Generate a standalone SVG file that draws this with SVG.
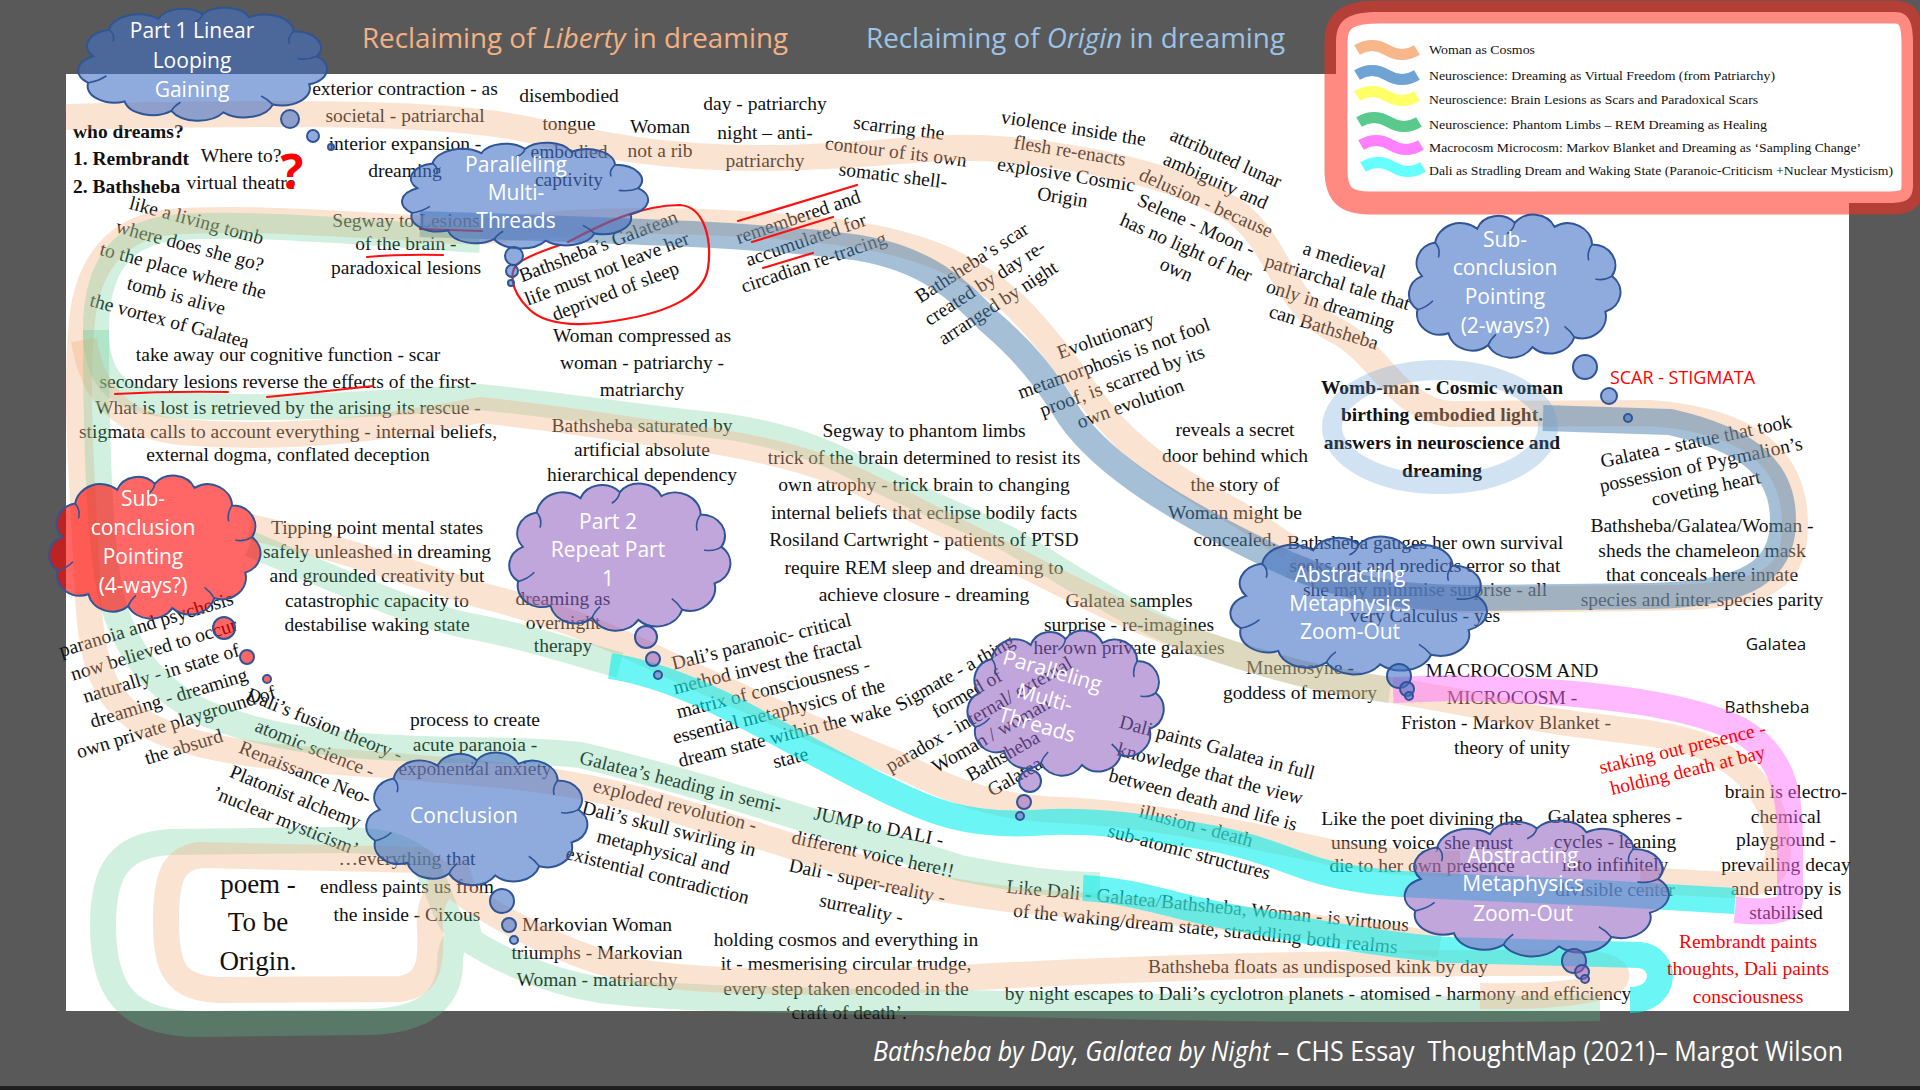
<svg xmlns="http://www.w3.org/2000/svg" xmlns:xlink="http://www.w3.org/1999/xlink" width="1920" height="1090" viewBox="0 0 1920 1090">
<style>
.t{font-family:"Liberation Serif","Times New Roman",serif;font-size:19.5px;fill:#111;text-anchor:middle}
.tb{font-weight:bold}
.ts{text-anchor:start}
.red{fill:#FF0000}
.cl{font-family:"Open Sans","Liberation Sans",sans-serif;font-size:21px;fill:#fff;text-anchor:middle}
.sn{font-family:"Open Sans","Liberation Sans",sans-serif;font-size:17px;fill:#111;text-anchor:middle}
.lg{font-family:"Liberation Serif",serif;font-size:13px;fill:#111}
.ti{font-family:"Open Sans","Liberation Sans",sans-serif;font-size:27px}
.hl{fill:none;stroke-linejoin:round;stroke-linecap:butt;stroke-width:26}
.o{stroke:#F4B183;stroke-opacity:.36}
.g{stroke:#5CC890;stroke-opacity:.28}
.bl{stroke:#4A7FAE;stroke-opacity:.5}
.lb{stroke:#5B9BD5;stroke-opacity:.28;stroke-width:20}
.cy{stroke:#00EEEE;stroke-opacity:.58}
.mg{stroke:#FF66FF;stroke-opacity:.45}
.cb{fill:#4472C4;fill-opacity:.6;stroke:#2F5597;stroke-width:2}
.cr{fill:#FF0000;fill-opacity:.6;stroke:#2F5597;stroke-width:2}
.cp{fill:#8E5CC0;fill-opacity:.55;stroke:#2F5597;stroke-width:2}
.ci{fill:none;stroke:#2F5597;stroke-width:1.6}
.rl{fill:none;stroke:#FF1010;stroke-width:2.2;stroke-linecap:round}
.lgs{fill:none;stroke-width:11;stroke-linecap:butt}
</style>
<defs>
<path id="cloud" vector-effect="non-scaling-stroke" d="M18,62 A21,21 0 0 1 30,28 A23,23 0 0 1 68,14 A20,20 0 0 1 102,8 A21,21 0 0 1 138,12 A22,22 0 0 1 172,30 A21,21 0 0 1 190,62 A21,21 0 0 1 184,98 A22,22 0 0 1 156,124 A23,23 0 0 1 118,134 A23,23 0 0 1 78,132 A22,22 0 0 1 42,120 A21,21 0 0 1 14,96 A20,20 0 0 1 18,62 Z"/>
<path id="cloudIn" vector-effect="non-scaling-stroke" d="M30,28 Q35,34 33,43 M102,8 Q101,15 95,19 M172,30 Q167,38 169,46 M190,62 Q183,67 175,65 M156,124 Q152,117 147,113 M78,132 Q80,126 85,121 M14,96 Q22,94 28,87"/>
</defs>

<rect x="0" y="0" width="1920" height="1090" fill="#595959"/>
<rect x="66" y="74" width="1783" height="937" fill="#FFFFFF"/>
<rect x="0" y="1086" width="1920" height="4" fill="#1E1E1E"/>

<text x="362" y="48" class="ti" fill="#F4B183" textLength="426" lengthAdjust="spacingAndGlyphs">Reclaiming of <tspan font-style="italic">Liberty</tspan> in dreaming</text>
<text x="866" y="48" class="ti" fill="#9DC3E6" textLength="419" lengthAdjust="spacingAndGlyphs">Reclaiming of <tspan font-style="italic">Origin</tspan> in dreaming</text>

<g id="legend">
<path d="M1336,42 C1336,18 1350,12 1380,12 L1895,12 C1910,12 1913,24 1913,45 L1913,185 C1913,200 1905,203 1890,203 L1370,203 C1346,203 1336,195 1336,170 Z" fill="#FFFFFF" stroke="#FF2A1A" stroke-opacity="0.55" stroke-width="23"/>
<path class="lgs" stroke="#F8B78B" d="M1357,50 c10,-6 20,-6 30,0 s20,6 30,0"/>
<path class="lgs" stroke="#6FA3D3" d="M1357,75 c10,-6 20,-6 30,0 s20,6 30,0"/>
<path class="lgs" stroke="#FFFF66" d="M1357,96 c10,-6 20,-6 30,0 s20,6 30,0"/>
<path class="lgs" stroke="#5AC98C" d="M1359,122 c10,-6 20,-6 30,0 s20,6 30,0"/>
<path class="lgs" stroke="#FF80FF" d="M1361,145 c10,-6 20,-6 30,0 s20,6 30,0"/>
<path class="lgs" stroke="#66FFFF" d="M1363,167 c10,-6 20,-6 30,0 s20,6 30,0"/>
<text class="lg" x="1429" y="54" textLength="106" lengthAdjust="spacingAndGlyphs">Woman as Cosmos</text>
<text class="lg" x="1429" y="80" textLength="346" lengthAdjust="spacingAndGlyphs">Neuroscience: Dreaming as Virtual Freedom (from Patriarchy)</text>
<text class="lg" x="1429" y="104" textLength="329" lengthAdjust="spacingAndGlyphs">Neuroscience: Brain Lesions as Scars and Paradoxical Scars</text>
<text class="lg" x="1429" y="129" textLength="338" lengthAdjust="spacingAndGlyphs">Neuroscience: Phantom Limbs – REM Dreaming as Healing</text>
<text class="lg" x="1429" y="152" textLength="432" lengthAdjust="spacingAndGlyphs">Macrocosm Microcosm: Markov Blanket and Dreaming as ‘Sampling Change’</text>
<text class="lg" x="1429" y="175" textLength="464" lengthAdjust="spacingAndGlyphs">Dali as Stradling Dream and Waking State (Paranoic-Criticism +Nuclear Mysticism)</text>
</g>

<g id="texts">
<text class="t"><tspan x="405" y="95">exterior contraction - as</tspan><tspan x="405" y="122">societal - patriarchal</tspan><tspan x="405" y="150">interior expansion -</tspan><tspan x="405" y="177">dreaming</tspan></text>
<text class="t"><tspan x="569" y="102">disembodied</tspan><tspan x="569" y="130">tongue</tspan><tspan x="569" y="158">embodied</tspan><tspan x="569" y="186">captivity</tspan></text>
<text class="t"><tspan x="660" y="133">Woman</tspan><tspan x="660" y="157">not a rib</tspan></text>
<text class="t"><tspan x="765" y="110">day - patriarchy</tspan><tspan x="765" y="139">night – anti-</tspan><tspan x="765" y="167">patriarchy</tspan></text>
<g transform="translate(896,152) rotate(7)"><text class="t"><tspan x="0" y="-18">scarring the</tspan><tspan x="0" y="6">contour of its own</tspan><tspan x="0" y="30">somatic shell-</tspan></text></g>
<g transform="translate(1068,163) rotate(9)"><text class="t"><tspan x="0" y="-29">violence inside the</tspan><tspan x="0" y="-6">flesh re-enacts</tspan><tspan x="0" y="18">explosive Cosmic</tspan><tspan x="0" y="41">Origin</tspan></text></g>
<g transform="translate(1201,214) rotate(24)"><text class="t"><tspan x="0" y="-55">attributed lunar</tspan><tspan x="0" y="-30">ambiguity and</tspan><tspan x="0" y="-6">delusion - because</tspan><tspan x="0" y="18">Selene - Moon -</tspan><tspan x="0" y="43">has no light of her</tspan><tspan x="0" y="67">own</tspan></text></g>
<g transform="translate(1334,294) rotate(17)"><text class="t"><tspan x="0" y="-29">a medieval</tspan><tspan x="0" y="-6">patriarchal tale that</tspan><tspan x="0" y="18">only in dreaming</tspan><tspan x="0" y="41">can Bathsheba</tspan></text></g>
<text class="t tb ts"><tspan x="73" y="138">who dreams?</tspan><tspan x="73" y="165">1. Rembrandt</tspan><tspan x="73" y="193">2. Bathsheba</tspan></text>
<text class="t"><tspan x="241" y="162">Where to?</tspan><tspan x="241" y="189">virtual theatre</tspan></text>
<g transform="translate(183,271) rotate(15)"><text class="t"><tspan x="0" y="-46">like a living tomb</tspan><tspan x="0" y="-20">where does she go?</tspan><tspan x="0" y="6">to the place where the</tspan><tspan x="0" y="32">tomb is alive</tspan><tspan x="0" y="58">the vortex of Galatea</tspan></text></g>
<text class="t"><tspan x="288" y="361">take away our cognitive function - scar</tspan><tspan x="288" y="388">secondary lesions reverse the effects of the first-</tspan><tspan x="288" y="414">What is lost is retrieved by the arising its rescue -</tspan><tspan x="288" y="438">stigmata calls to account everything - internal beliefs,</tspan><tspan x="288" y="461">external dogma, conflated deception</tspan></text>
<text class="t"><tspan x="406" y="227">Segway to Lesions</tspan><tspan x="406" y="250">of the brain -</tspan><tspan x="406" y="274">paradoxical lesions</tspan></text>
<g transform="translate(607,269) rotate(-21)"><text class="t"><tspan x="0" y="-18">Bathsheba’s Galatean</tspan><tspan x="0" y="6">life must not leave her</tspan><tspan x="0" y="30">deprived of sleep</tspan></text></g>
<g transform="translate(806,240) rotate(-19)"><text class="t"><tspan x="0" y="-18">remembered and</tspan><tspan x="0" y="6">accumulated for</tspan><tspan x="0" y="30">circadian re-tracing</tspan></text></g>
<g transform="translate(985,283) rotate(-33)"><text class="t"><tspan x="0" y="-18">Bathsheba’s scar</tspan><tspan x="0" y="6">created by day re-</tspan><tspan x="0" y="30">arranged by night</tspan></text></g>
<g transform="translate(1118,370) rotate(-20)"><text class="t"><tspan x="0" y="-30">Evolutionary</tspan><tspan x="0" y="-6">metamorphosis is not fool</tspan><tspan x="0" y="18">proof, is scarred by its</tspan><tspan x="0" y="42">own evolution</tspan></text></g>
<text class="t"><tspan x="642" y="342">Woman compressed as</tspan><tspan x="642" y="369">woman - patriarchy -</tspan><tspan x="642" y="396">matriarchy</tspan></text>
<text class="t"><tspan x="642" y="432">Bathsheba saturated by</tspan><tspan x="642" y="456">artificial absolute</tspan><tspan x="642" y="481">hierarchical dependency</tspan></text>
<text class="t"><tspan x="924" y="437">Segway to phantom limbs</tspan><tspan x="924" y="464">trick of the brain determined to resist its</tspan><tspan x="924" y="491">own atrophy - trick brain to changing</tspan><tspan x="924" y="519">internal beliefs that eclipse bodily facts</tspan><tspan x="924" y="546">Rosiland Cartwright - patients of PTSD</tspan><tspan x="924" y="574">require REM sleep and dreaming to</tspan><tspan x="924" y="601">achieve closure - dreaming</tspan></text>
<text class="t"><tspan x="1235" y="436">reveals a secret</tspan><tspan x="1235" y="462">door behind which</tspan><tspan x="1235" y="491">the story of</tspan><tspan x="1235" y="519">Woman might be</tspan><tspan x="1235" y="546">concealed.</tspan></text>
<text class="t tb"><tspan x="1442" y="394">Womb-man - Cosmic woman</tspan><tspan x="1442" y="421">birthing embodied light.</tspan><tspan x="1442" y="449">answers in neuroscience and</tspan><tspan x="1442" y="477">dreaming</tspan></text>
<g transform="translate(1701,465) rotate(-12)"><text class="t"><tspan x="0" y="-18">Galatea - statue that took</tspan><tspan x="0" y="6">possession of Pygmalion’s</tspan><tspan x="0" y="30">coveting heart</tspan></text></g>
<text class="t"><tspan x="1702" y="532">Bathsheba/Galatea/Woman -</tspan><tspan x="1702" y="557">sheds the chameleon mask</tspan><tspan x="1702" y="581">that conceals here innate</tspan><tspan x="1702" y="606">species and inter-species parity</tspan></text>
<text class="sn" x="1776" y="650">Galatea</text>
<text class="sn" x="1767" y="713">Bathsheba</text>
<text class="t"><tspan x="377" y="534">Tipping point mental states</tspan><tspan x="377" y="558">safely unleashed in dreaming</tspan><tspan x="377" y="582">and grounded creativity but</tspan><tspan x="377" y="607">catastrophic capacity to</tspan><tspan x="377" y="631">destabilise waking state</tspan></text>
<text class="t"><tspan x="563" y="605">dreaming as</tspan><tspan x="563" y="629">overnight</tspan><tspan x="563" y="652">therapy</tspan></text>
<g transform="translate(776,700) rotate(-14)"><text class="t"><tspan x="0" y="-54">Dali’s paranoic- critical</tspan><tspan x="0" y="-30">method invest the fractal</tspan><tspan x="0" y="-6">matrix of consciousness -</tspan><tspan x="0" y="18">essential metaphysics of the</tspan><tspan x="0" y="42">dream state within the wake</tspan><tspan x="0" y="66">state</tspan></text></g>
<g transform="translate(985,725) rotate(-30)"><text class="t"><tspan x="0" y="-54">Sigmate - a thing</tspan><tspan x="0" y="-30">formed of</tspan><tspan x="0" y="-6">paradox - internal/ external</tspan><tspan x="0" y="18">Woman / woman</tspan><tspan x="0" y="42">Bathsheba</tspan><tspan x="0" y="66">Galatea</tspan></text></g>
<g transform="translate(165,686) rotate(-17)"><text class="t"><tspan x="0" y="-58">paranoia and psychosis</tspan><tspan x="0" y="-32">now believed to occur</tspan><tspan x="0" y="-7">naturally - in state of</tspan><tspan x="0" y="19">dreaming - dreaming</tspan><tspan x="0" y="44">own private playground of</tspan><tspan x="0" y="70">the absurd</tspan></text></g>
<g transform="translate(305,773) rotate(22)"><text class="t"><tspan x="0" y="-46">Dali’s fusion theory -</tspan><tspan x="0" y="-20">atomic science -</tspan><tspan x="0" y="6">Renaissance Neo-</tspan><tspan x="0" y="32">Platonist alchemy</tspan><tspan x="0" y="58">’nuclear mysticism’</tspan></text></g>
<text class="t"><tspan x="475" y="726">process to create</tspan><tspan x="475" y="751">acute paranoia -</tspan><tspan x="475" y="775">exponential anxiety</tspan></text>
<text class="t"><tspan x="407" y="865">…everything that</tspan><tspan x="407" y="893">endless paints us from</tspan><tspan x="407" y="921">the inside - Cixous</tspan></text>
<text class="t" style="font-size:27px"><tspan x="258" y="893">poem -</tspan><tspan x="258" y="931">To be</tspan><tspan x="258" y="970">Origin.</tspan></text>
<g transform="translate(669,829) rotate(14)"><text class="t"><tspan x="0" y="-42">Galatea’s heading in semi-</tspan><tspan x="0" y="-18">exploded revolution -</tspan><tspan x="0" y="6">Dali’s skull swirling in</tspan><tspan x="0" y="30">metaphysical and</tspan><tspan x="0" y="54">existential contradiction</tspan></text></g>
<text class="t"><tspan x="597" y="931">Markovian Woman</tspan><tspan x="597" y="959">triumphs - Markovian</tspan><tspan x="597" y="986">Woman - matriarchy</tspan></text>
<g transform="translate(870,868) rotate(12)"><text class="t"><tspan x="0" y="-36">JUMP to DALI -</tspan><tspan x="0" y="-8">different voice here!!</tspan><tspan x="0" y="20">Dali - super-reality -</tspan><tspan x="0" y="48">surreality -</tspan></text></g>
<text class="t"><tspan x="846" y="946">holding cosmos and everything in</tspan><tspan x="846" y="970">it - mesmerising circular trudge,</tspan><tspan x="846" y="995">every step taken encoded in the</tspan><tspan x="846" y="1019">‘craft of death’.</tspan></text>
<text class="t"><tspan x="1129" y="607">Galatea samples</tspan><tspan x="1129" y="631">surprise - re-imagines</tspan><tspan x="1129" y="654">her own private galaxies</tspan></text>
<text class="t"><tspan x="1425" y="549">Bathsheba gauges her own survival</tspan><tspan x="1425" y="572">seeks out and predicts error so that</tspan><tspan x="1425" y="596">she may minimise surprise - all</tspan><tspan x="1425" y="622">very Calculus - yes</tspan></text>
<text class="t"><tspan x="1300" y="674">Mnemosyne -</tspan><tspan x="1300" y="699">goddess of memory</tspan></text>
<text class="t"><tspan x="1512" y="677">MACROCOSM AND</tspan><tspan x="1512" y="704">MICROCOSM -</tspan><tspan x="1506" y="729">Friston - Markov Blanket -</tspan><tspan x="1512" y="754">theory of unity</tspan></text>
<g transform="translate(1203,800) rotate(15)"><text class="t"><tspan x="0" y="-48">Dali paints Galatea in full</tspan><tspan x="0" y="-21">knowledge that the view</tspan><tspan x="0" y="6">between death and life is</tspan><tspan x="0" y="33">illusion - death</tspan><tspan x="0" y="60">sub-atomic structures</tspan></text></g>
<text class="t"><tspan x="1422" y="825">Like the poet divining the</tspan><tspan x="1422" y="849">unsung voice, she must</tspan><tspan x="1422" y="872">die to her own presence</tspan></text>
<text class="t"><tspan x="1615" y="823">Galatea spheres -</tspan><tspan x="1615" y="848">cycles - leaning</tspan><tspan x="1615" y="871">into infinitely</tspan><tspan x="1615" y="896">divisible center</tspan></text>
<text class="t"><tspan x="1786" y="798">brain is electro-</tspan><tspan x="1786" y="823">chemical</tspan><tspan x="1786" y="846">playground -</tspan><tspan x="1786" y="871">prevailing decay</tspan><tspan x="1786" y="895">and entropy is</tspan><tspan x="1786" y="919">stabilised</tspan></text>
<g transform="translate(1206,923) rotate(5.5)"><text class="t"><tspan x="0" y="-11">Like Dali - Galatea/Bathsheba, Woman - is virtuous</tspan><tspan x="0" y="12">of the waking/dream state, straddling both realms</tspan></text></g>
<text class="t"><tspan x="1318" y="973">Bathsheba floats as undisposed kink by day</tspan><tspan x="1318" y="1000">by night escapes to Dali’s cyclotron planets - atomised - harmony and efficiency</tspan></text>
</g>

<g id="connectors">
<path class="hl o" d="M66,117 C250,113 430,110 520,128 C600,145 660,158 760,158 C880,158 930,142 1010,150 C1110,160 1190,182 1236,212 C1280,245 1283,305 1335,330 C1380,352 1395,408 1450,414 L1650,413 C1745,420 1795,455 1795,525 C1795,585 1760,597 1650,598 L1470,600 C1400,600 1340,585 1290,565"/>
<path class="hl o" d="M480,232 C600,215 720,220 820,230 C920,240 975,268 1015,305 C1055,345 1080,385 1100,410 C1135,455 1185,485 1240,515 L1290,548"/>
<path class="hl bl" d="M420,224 C600,230 760,234 860,248 C930,260 960,292 990,322 C1025,352 1045,377 1070,417 C1105,467 1180,512 1265,553 C1320,582 1380,598 1470,598 L1650,596 C1750,594 1783,570 1783,520 C1783,470 1750,440 1670,422 L1543,418"/>
<ellipse class="hl lb" cx="1440" cy="427" rx="108" ry="57"/>
<path class="hl o" d="M480,232 C400,228 250,215 170,222 C115,228 88,265 82,320 C76,380 80,450 84,520 C88,580 86,630 100,670 C112,705 135,722 170,735 C240,760 330,760 420,768 C500,775 560,778 640,800 C720,822 800,850 900,880 C1000,905 1100,905 1200,915 C1300,925 1380,935 1440,945"/>
<path class="hl g" d="M480,240 C400,236 250,220 170,228 C112,236 96,280 96,330 C96,378 115,400 170,405 C300,412 420,400 480,397 C560,405 640,418 730,427 C800,438 840,458 880,480 C930,505 970,520 1010,540 C1070,575 1130,618 1200,643 C1270,668 1330,682 1390,690"/>
<path class="hl o" d="M84,340 C92,392 120,425 180,432 C300,442 400,425 480,410 C560,418 640,432 713,441 C780,452 830,466 880,492 C940,522 990,548 1060,583 C1120,613 1160,630 1193,641 C1250,660 1290,672 1330,680 C1400,692 1460,700 1520,715 C1590,730 1650,728 1700,745 C1760,770 1778,810 1778,850 C1778,878 1760,885 1730,885 L1640,880"/>
<path class="hl g" d="M96,330 C96,420 98,520 108,580 C118,640 150,690 210,715 C270,738 330,745 400,748 C470,752 520,748 580,755 C680,778 780,811 960,868 C1020,880 1060,885 1100,885"/>
<path class="hl o" d="M250,527 C350,550 430,580 480,595 C560,615 620,640 680,670 C760,705 840,742 900,765 C960,795 1000,808 1060,810 C1150,814 1250,835 1330,852 C1380,862 1420,864 1460,864"/>
<path class="hl g" d="M250,544 C350,585 420,618 480,628 C540,640 580,655 620,665"/>
<path class="hl g" d="M1600,1008 C1300,1012 1100,1005 960,1003 C800,1000 680,1000 600,990 C540,980 490,955 462,935 C440,915 440,880 420,860 C400,845 380,840 340,840 L170,842 C120,845 103,870 103,925 C103,990 125,1024 200,1024 L370,1022 C430,1020 450,995 450,962 C450,940 462,930 480,926"/>
<path class="hl o" d="M1480,996 C1580,998 1625,985 1615,972 C1605,962 1580,962 1540,963 C1300,962 1100,970 960,978 C820,985 700,982 640,972 C580,960 520,930 480,905 C455,890 440,870 420,860 L200,855 C172,858 166,880 166,920 C166,970 175,988 220,990 L400,989 C428,985 432,965 430,930 C428,900 440,880 470,870"/>
<path class="hl mg" d="M1393,690 L1450,688 C1560,690 1680,700 1740,730 C1788,758 1790,800 1790,850 L1790,900 C1790,912 1765,913 1735,910"/>
<path class="hl cy" d="M610,666 C650,672 690,688 730,708 C790,738 860,780 920,805 C960,822 1000,826 1050,822 C1100,820 1150,828 1200,836 C1250,844 1280,858 1310,868 C1345,880 1390,884 1440,886 L1600,893 L1735,901"/>
<path class="hl cy" d="M1083,888 C1130,890 1170,905 1220,915 C1300,930 1380,945 1450,950 L1640,955 C1668,958 1668,1000 1630,1000"/>
</g>

<g id="annotations">
<text x="292" y="189" font-family="Open Sans, Liberation Sans, sans-serif" font-size="48" font-weight="bold" fill="#FF0000" text-anchor="middle">?</text>
<path class="rl" d="M420,229 L482,231"/>
<path class="rl" d="M367,257 Q400,254 443,255"/>
<path class="rl" d="M568,242 C600,225 640,205 680,205 C705,207 712,240 708,268 C704,295 670,312 620,320 C580,327 545,326 528,308 C510,290 508,270 520,262 C530,255 545,250 560,245"/>
<path class="rl" d="M738,221 L857,185"/>
<path class="rl" d="M752,242 L833,217"/>
<path class="rl" d="M763,268 L813,253"/>
<path class="rl" d="M115,394 Q170,391 228,392"/>
<path class="rl" d="M267,397 Q320,392 373,386"/>
<text x="1610" y="384" font-family="Open Sans, Liberation Sans, sans-serif" font-size="18" fill="#FF0000" textLength="145" lengthAdjust="spacingAndGlyphs">SCAR - STIGMATA</text>
<g transform="translate(1685,759) rotate(-13.5)"><text class="t red"><tspan x="0" y="-5">staking out presence -</tspan><tspan x="0" y="18">holding death at bay</tspan></text></g>
<text class="t red"><tspan x="1748" y="948">Rembrandt paints</tspan><tspan x="1748" y="975">thoughts, Dali paints</tspan><tspan x="1748" y="1003">consciousness</tspan></text>
</g>

<g id="node-part1">
<g transform="translate(70,8) scale(1.3,0.779)"><use href="#cloud" class="cb"/><use href="#cloudIn" class="ci"/></g>
<circle class="cb" cx="290" cy="119" r="9"/><circle class="cb" cx="313" cy="136" r="6"/><circle class="cb" cx="331" cy="147" r="3"/>
<text class="cl"><tspan x="192" y="38">Part 1 Linear</tspan><tspan x="192" y="68">Looping</tspan><tspan x="192" y="97">Gaining</tspan></text>
</g>
<g id="node-paralleling-1">
<g transform="translate(394,143) scale(1.285,0.729)"><use href="#cloud" class="cb"/><use href="#cloudIn" class="ci"/></g>
<circle class="cb" cx="514" cy="256" r="9"/><circle class="cb" cx="512" cy="271" r="6"/><circle class="cb" cx="511" cy="283" r="3"/>
<text class="cl"><tspan x="516" y="172">Paralleling</tspan><tspan x="516" y="200">Multi-</tspan><tspan x="516" y="228">Threads</tspan></text>
</g>
<g id="node-subconclusion-2">
<g transform="translate(1402,215) scale(1.105,0.986)"><use href="#cloud" class="cb"/><use href="#cloudIn" class="ci"/></g>
<circle class="cb" cx="1585" cy="367" r="12"/><circle class="cb" cx="1609" cy="396" r="8"/><circle class="cb" cx="1628" cy="418" r="4"/>
<text class="cl"><tspan x="1505" y="247">Sub-</tspan><tspan x="1505" y="275">conclusion</tspan><tspan x="1505" y="304">Pointing</tspan><tspan x="1505" y="333">(2-ways?)</tspan></text>
</g>
<g id="node-subconclusion-4">
<g transform="translate(42,476) scale(1.105,0.986)"><use href="#cloud" class="cr"/><use href="#cloudIn" class="ci"/></g>
<circle class="cr" cx="224" cy="628" r="11"/><circle class="cr" cx="247" cy="657" r="7"/><circle class="cr" cx="267" cy="679" r="4"/>
<text class="cl"><tspan x="143" y="506">Sub-</tspan><tspan x="143" y="535">conclusion</tspan><tspan x="143" y="564">Pointing</tspan><tspan x="143" y="593">(4-ways?)</tspan></text>
</g>
<g id="node-part2">
<g transform="translate(502,484) scale(1.155,1.014)"><use href="#cloud" class="cp"/><use href="#cloudIn" class="ci"/></g>
<circle class="cp" cx="646" cy="637" r="11"/><circle class="cp" cx="653" cy="659" r="7"/><circle class="cp" cx="658" cy="675" r="4"/>
<text class="cl"><tspan x="608" y="529">Part 2</tspan><tspan x="608" y="557">Repeat Part</tspan><tspan x="608" y="586">1</tspan></text>
</g>
<g id="node-paralleling-2">
<g transform="translate(961,631) scale(1.025,1.0)"><use href="#cloud" class="cp"/><use href="#cloudIn" class="ci"/></g>
<circle class="cp" cx="1030" cy="781" r="11"/><circle class="cp" cx="1024" cy="802" r="7"/><circle class="cp" cx="1020" cy="816" r="4"/>
<g transform="translate(1045,697) rotate(16)"><text class="cl"><tspan x="0" y="-20">Paralleling</tspan><tspan x="0" y="8">Multi-</tspan><tspan x="0" y="36">Threads</tspan></text></g>
</g>
<g id="node-abstracting-1">
<g transform="translate(1222,537) scale(1.34,0.95)"><use href="#cloud" class="cb"/><use href="#cloudIn" class="ci"/></g>
<circle class="cb" cx="1399" cy="676" r="12"/><circle class="cb" cx="1407" cy="689" r="7"/><circle class="cb" cx="1409" cy="696" r="4"/>
<text class="cl"><tspan x="1350" y="582">Abstracting</tspan><tspan x="1350" y="611">Metaphysics</tspan><tspan x="1350" y="639">Zoom-Out</tspan></text>
</g>
<g id="node-abstracting-2">
<g transform="translate(1396,821) scale(1.38,0.936)"><use href="#cloud" class="cp"/><use href="#cloudIn" class="ci"/></g>
<circle class="cp" cx="1574" cy="961" r="12"/><circle class="cp" cx="1582" cy="972" r="7"/><circle class="cp" cx="1585" cy="979" r="4"/>
<text class="cl"><tspan x="1523" y="863">Abstracting</tspan><tspan x="1523" y="891">Metaphysics</tspan><tspan x="1523" y="921">Zoom-Out</tspan></text>
</g>
<g id="node-conclusion">
<g transform="translate(359,753) scale(1.155,0.914)"><use href="#cloud" class="cb"/><use href="#cloudIn" class="ci"/></g>
<circle class="cb" cx="502" cy="901" r="12"/><circle class="cb" cx="509" cy="925" r="7"/><circle class="cb" cx="514" cy="940" r="4"/>
<text class="cl" x="464" y="823">Conclusion</text>
</g>

<text x="873" y="1061" class="ti" fill="#FFFFFF" textLength="970" lengthAdjust="spacingAndGlyphs"><tspan font-style="italic">Bathsheba by Day, Galatea by Night</tspan> – CHS Essay&#160; ThoughtMap (2021)– Margot Wilson</text>
</svg>
